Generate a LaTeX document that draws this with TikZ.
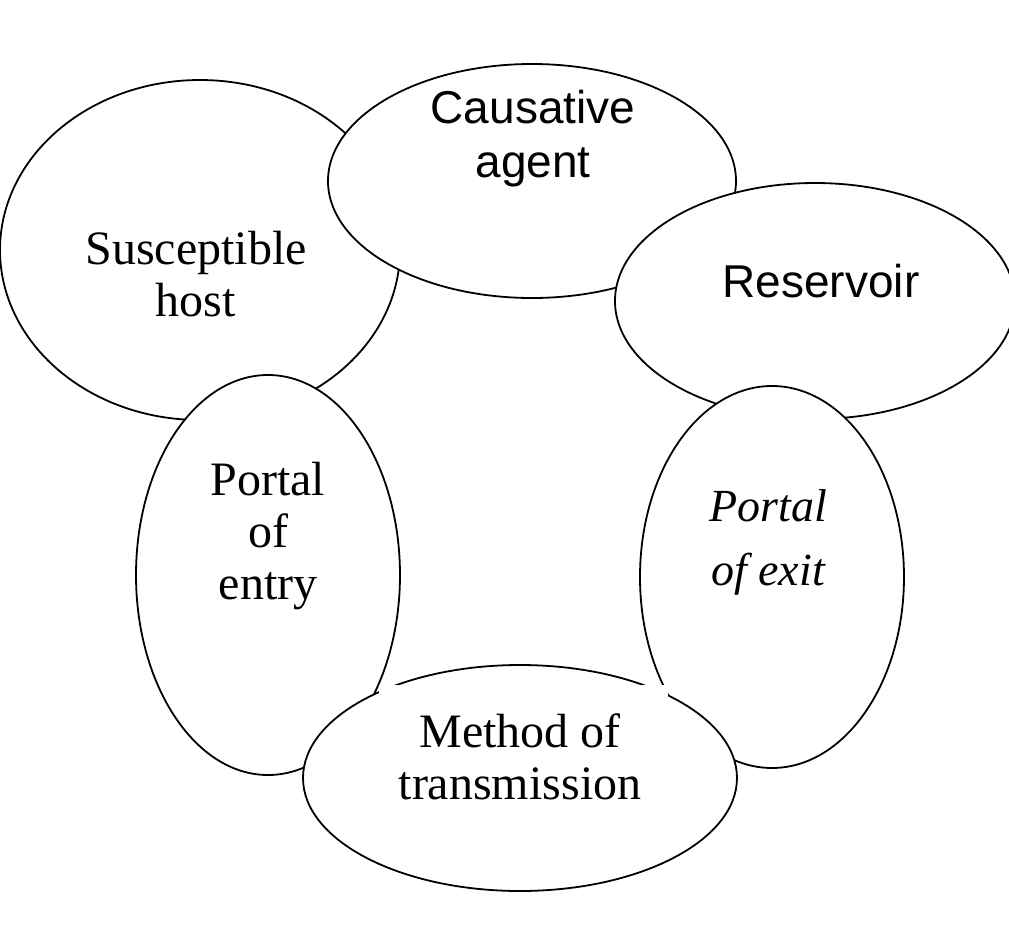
\documentclass[tikz,border=0pt]{standalone}
\usepackage{fontspec}
\setmainfont{Liberation Serif}
\newfontfamily\arialfont{Liberation Sans}
\usetikzlibrary{shapes.geometric}

\begin{document}
\begin{tikzpicture}[x=0.5pt,y=-0.5pt,
  ring/.style={ellipse,draw,fill=white,line width=0.9pt,inner sep=0pt},
  serifnote/.style={font=\fontsize{24}{26}\selectfont,align=center},
  sansnote/.style={font=\arialfont\fontsize{23}{27}\selectfont,align=center}
]
  \useasboundingbox (0,0) rectangle (1009,927);

  % ---- Six links of the chain ---------------------------------
  % Left: Susceptible host (lowest layer)
  \node[ring,minimum width=200pt,minimum height=170pt] (host) at (200,250) {};

  % Top: Causative agent
  \node[ring,minimum width=204pt,minimum height=117pt] (agent) at (532,181) {};

  % Right: Reservoir
  \node[ring,minimum width=200pt,minimum height=118pt] (reservoir) at (815,301) {};

  % Lower right: Portal of exit
  \node[ring,minimum width=132pt,minimum height=191pt] (exit) at (772,577) {};

  % Lower left: Portal of entry
  \node[ring,minimum width=132pt,minimum height=200pt] (entry) at (268,575) {};

  % Bottom: Method of transmission
  \node[ring,minimum width=217pt,minimum height=113pt] (method) at (520,778) {};

  % white strip along the top of the bottom ellipse
  \fill[white] (379,685) rectangle (668,697);

  % ---- Labels ------------------------------------------------
  \node[sansnote] (agentlbl) at (533,139) {Causative\\agent};
  \node[sansnote] (reservoirlbl) at (821,281) {Reservoir};
  \node[serifnote] (hostlbl) at (196,274) {Susceptible\\host};
  \node[serifnote] (entrylbl) at (268,536) {Portal\\of\\entry};
  \node[serifnote,font=\itshape\fontsize{23}{32}\selectfont] (exitlbl)
    at (768,542) {Portal\\of exit};
  \node[serifnote] (methodlbl) at (520,757) {Method of\\transmission};

\end{tikzpicture}
\end{document}
